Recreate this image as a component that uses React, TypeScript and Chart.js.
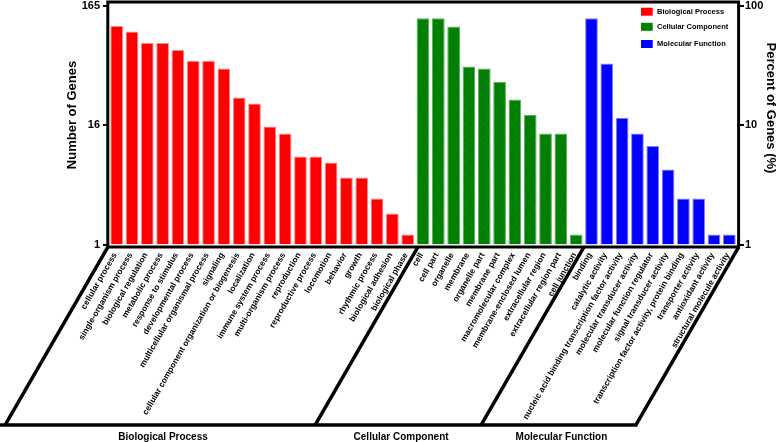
import React, { useEffect, useRef } from "react";
import { Chart, registerables } from "chart.js";

Chart.register(...registerables);

const bpLabels = [
  "cellular process",
  "single-organism process",
  "biological regulation",
  "metabolic process",
  "response to stimulus",
  "developmental process",
  "multicellular organismal process",
  "signaling",
  "cellular component organization or biogenesis",
  "localization",
  "immune system process",
  "multi-organism process",
  "reproduction",
  "reproductive process",
  "locomotion",
  "behavior",
  "growth",
  "rhythmic process",
  "biological adhesion",
  "biological phase",
];
const bpCounts = [111, 100, 80, 80, 70, 57, 57, 49, 28, 25, 16, 14, 9, 9, 8, 6, 6, 4, 3, 2];

const ccLabels = [
  "cell",
  "cell part",
  "organelle",
  "membrane",
  "organelle part",
  "membrane part",
  "macromolecular complex",
  "membrane-enclosed lumen",
  "extracellular region",
  "extracellular region part",
  "cell junction",
];
const ccCounts = [129, 129, 110, 51, 49, 38, 27, 20, 14, 14, 2];

const mfLabels = [
  "binding",
  "catalytic activity",
  "nucleic acid binding transcription factor activity",
  "molecular transducer activity",
  "molecular function regulator",
  "signal transducer activity",
  "transcription factor activity, protein binding",
  "transporter activity",
  "antioxidant activity",
  "structural molecule activity",
];
const mfCounts = [129, 54, 19, 14, 11, 7, 4, 4, 2, 2];

const groupNames = ["Biological Process", "Cellular Component", "Molecular Function"];
const groupColors = ["#ff0000", "#008000", "#0000ff"];
const groupEdges = ["#ff8a8a", "#5cae5c", "#8080ff"];

const totalGenes = 165;
const percentTicks = [1, 10, 100];
const leftTickLabels = ["1", "16", "165"];
const rightTickLabels = ["1", "10", "100"];

const FONT = "'Liberation Sans', Arial, Helvetica, sans-serif";

function makeDotPattern(base: string, dot: string): CanvasPattern | string {
  const c = document.createElement("canvas");
  c.width = 9;
  c.height = 13;
  const g = c.getContext("2d");
  if (!g) return base;
  g.fillStyle = base;
  g.fillRect(0, 0, c.width, c.height);
  g.fillStyle = dot;
  g.fillRect(2, 1, 1, 1);
  g.fillRect(6, 6, 1, 1);
  g.fillRect(3, 10, 1, 1);
  const p = g.createPattern(c, "repeat");
  return p || base;
}

export default function App() {
  const ref = useRef<HTMLCanvasElement>(null);

  useEffect(() => {
    document.body.style.margin = "0";
    const canvas = ref.current;
    if (!canvas) return;

    const labels = [...bpLabels, ...ccLabels, ...mfLabels];
    const values = [...bpCounts, ...ccCounts, ...mfCounts];
    const groupSizes = [bpLabels.length, ccLabels.length, mfLabels.length];
    const greenPattern = makeDotPattern(groupColors[1], "#6d4f86");
    const fills: (string | CanvasPattern)[] = [];
    const edges: string[] = [];
    groupSizes.forEach((n, gi) => {
      for (let i = 0; i < n; i++) {
        fills.push(gi === 1 ? greenPattern : groupColors[gi]);
        edges.push(groupEdges[gi]);
      }
    });

    const decor = {
      id: "decor",
      afterDraw(chart: any) {
        const ctx = chart.ctx as CanvasRenderingContext2D;
        const area = chart.chartArea;
        const xs = chart.scales.x;
        ctx.save();

        // frame
        const fl = area.left - 1.2;
        const fr = area.right + 1.6;
        const ft = 2;
        const fb = area.bottom + 2.5;
        ctx.strokeStyle = "#000";
        ctx.lineWidth = 3;
        ctx.strokeRect(fl, ft, fr - fl, fb - ft);

        // category labels, rotated 60 degrees, ending under each bar
        ctx.fillStyle = "#000";
        ctx.font = `bold 8.4px ${FONT}`;
        ctx.textAlign = "right";
        ctx.textBaseline = "middle";
        const labs: string[] = chart.data.labels;
        labs.forEach((lab, i) => {
          const px = xs.getPixelForValue(i);
          ctx.save();
          ctx.translate(px - 1.5, fb + 6.5);
          ctx.rotate((-60 * Math.PI) / 180);
          ctx.fillText(lab, 0, 0);
          ctx.restore();
        });

        // group brackets
        const baseY = 425;
        const slant = (baseY - fb) / Math.tan((60 * Math.PI) / 180);
        const tops: number[] = [fl];
        let idx = 0;
        for (let g = 0; g < groupSizes.length - 1; g++) {
          idx += groupSizes[g];
          const mid = (xs.getPixelForValue(idx - 1) + xs.getPixelForValue(idx)) / 2;
          tops.push(g === 0 ? mid + 2.5 : mid);
        }
        tops.push(fr);
        ctx.lineWidth = 3.5;
        ctx.lineCap = "butt";
        tops.forEach((tx) => {
          ctx.beginPath();
          ctx.moveTo(tx, fb);
          ctx.lineTo(tx - slant, baseY);
          ctx.stroke();
        });
        ctx.beginPath();
        ctx.moveTo(0, baseY);
        ctx.lineTo(tops[tops.length - 1] - slant + 1.5, baseY);
        ctx.stroke();

        ctx.font = `bold 10px ${FONT}`;
        ctx.textAlign = "center";
        ctx.textBaseline = "middle";
        for (let g = 0; g < groupNames.length; g++) {
          const a = Math.max(tops[g] - slant, 0);
          const b = tops[g + 1] - slant;
          ctx.fillText(groupNames[g], (a + b) / 2 + 3, 437);
        }

        // axis titles
        ctx.font = `bold 13px ${FONT}`;
        ctx.save();
        ctx.translate(72.5, 115);
        ctx.rotate(-Math.PI / 2);
        ctx.fillText("Number of Genes", 0, 0);
        ctx.restore();
        ctx.save();
        ctx.translate(771, 108);
        ctx.rotate(Math.PI / 2);
        ctx.fillText("Percent of Genes (%)", 0, 0);
        ctx.restore();

        // legend
        const legendTops = [7.7, 22.8, 40];
        ctx.font = `bold 7.5px ${FONT}`;
        ctx.textAlign = "left";
        for (let g = 0; g < groupNames.length; g++) {
          ctx.fillStyle = groupColors[g];
          ctx.fillRect(641, legendTops[g], 11.7, 8);
          ctx.fillStyle = "#000";
          ctx.fillText(groupNames[g], 657, legendTops[g] + 4.3);
        }
        ctx.restore();
      },
    };

    const chart = new Chart(canvas, {
      type: "bar",
      data: {
        labels,
        datasets: [
          {
            data: values,
            backgroundColor: fills as any,
            borderColor: edges,
            borderWidth: 1,
            barPercentage: 0.83,
            categoryPercentage: 1,
            yAxisID: "y",
          },
        ],
      },
      options: {
        animation: false,
        responsive: false,
        devicePixelRatio: 1,
        layout: { padding: { top: 5.5, left: 0, right: 0, bottom: 0 } },
        plugins: { legend: { display: false }, tooltip: { enabled: false } },
        scales: {
          x: {
            type: "category",
            afterFit: (s: any) => {
              s.height = 442 - 244.5;
            },
            grid: { display: false, drawTicks: false },
            border: { display: false },
            ticks: { display: false, autoSkip: false },
          },
          y: {
            type: "logarithmic",
            position: "left",
            min: totalGenes / 100,
            max: totalGenes,
            afterFit: (s: any) => {
              s.width = 109;
            },
            afterBuildTicks: (s: any) => {
              s.ticks = percentTicks.map((p) => ({ value: (p * totalGenes) / 100 }));
            },
            grid: { drawOnChartArea: false, drawTicks: true, tickLength: 6, color: "#000", lineWidth: 2 },
            border: { display: false },
            ticks: {
              padding: 3,
              color: "#000",
              font: { family: FONT, size: 11, weight: "bold", lineHeight: 0.4 },
              callback: (_v: any, i: number) => leftTickLabels[i],
            },
          },
          y2: {
            type: "logarithmic",
            position: "right",
            min: percentTicks[0],
            max: percentTicks[percentTicks.length - 1],
            afterFit: (s: any) => {
              s.width = 41;
            },
            afterBuildTicks: (s: any) => {
              s.ticks = percentTicks.map((p) => ({ value: p }));
            },
            grid: { drawOnChartArea: false, drawTicks: true, tickLength: 7, color: "#000", lineWidth: 2 },
            border: { display: false },
            ticks: {
              padding: 1,
              color: "#000",
              font: { family: FONT, size: 11, weight: "bold", lineHeight: 0.4 },
              callback: (_v: any, i: number) => rightTickLabels[i],
            },
          },
        },
      } as any,
      plugins: [decor],
    });

    return () => chart.destroy();
  }, []);

  return (
    <div style={{ width: 778, height: 442, position: "relative", background: "#fff" }}>
      <canvas ref={ref} width={778} height={442} style={{ display: "block" }} />
    </div>
  );
}
